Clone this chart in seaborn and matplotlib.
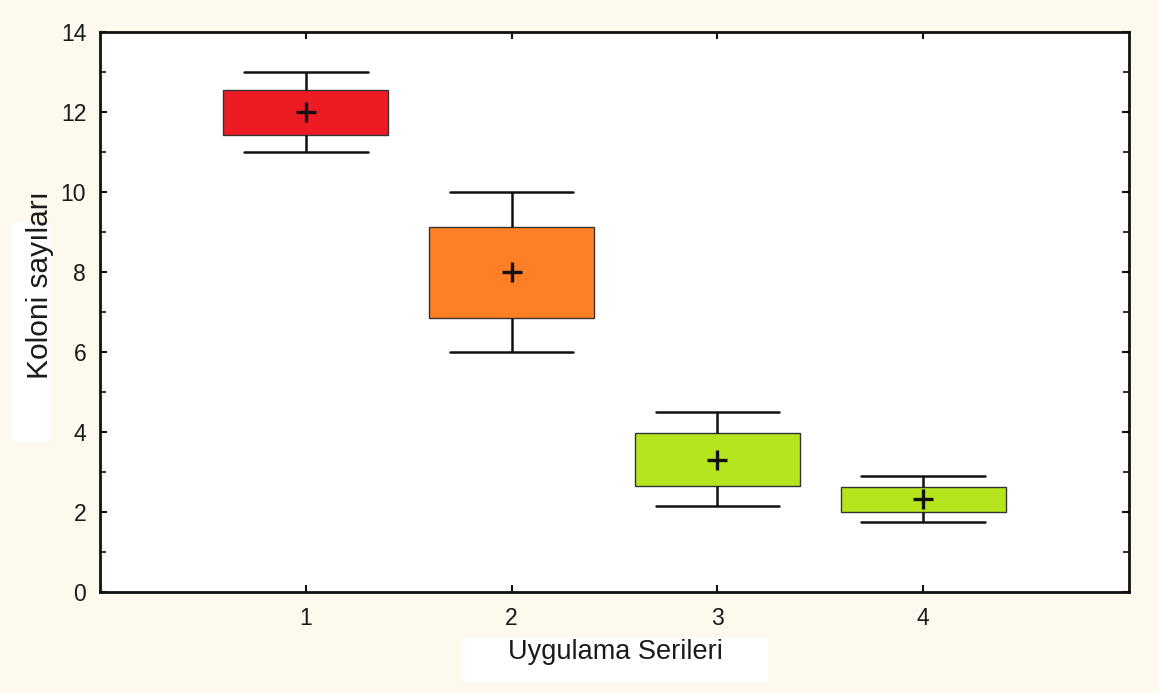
import numpy as np
import pandas as pd
import matplotlib
matplotlib.use("Agg")
import matplotlib.pyplot as plt
import seaborn as sns
from matplotlib.ticker import MultipleLocator
from matplotlib.patches import Rectangle

categories = ["1", "2", "3", "4"]
whisker_low = [11.0, 6.0, 2.15, 1.75]
q1 = [11.43, 6.85, 2.65, 2.0]
center = [12.0, 8.0, 3.3, 2.32]
q3 = [12.55, 9.13, 3.98, 2.63]
whisker_high = [13.0, 10.0, 4.5, 2.9]
colors = ["#ED1C24", "#FF7F27", "#B5E61D", "#B5E61D"]

rows = []
for c, a, b, m, d, e in zip(categories, whisker_low, q1, center, q3, whisker_high):
    for v in (a, b, m, d, e):
        rows.append({"seri": c, "val": v})
df = pd.DataFrame(rows)
cdf = pd.DataFrame({"seri": categories, "val": center})

sns.set_theme(style="white")
plt.rcParams["font.family"] = ["Liberation Sans", "DejaVu Sans"]

bg = "#FEF9EE"
fig = plt.figure(figsize=(11.59, 6.93), dpi=100, facecolor=bg)
ax = fig.add_axes([0.0863, 0.1457, 0.8878, 0.8081])
ax.set_facecolor("white")

sns.boxplot(data=df, x="seri", y="val", hue="seri", palette=colors, order=categories,
            hue_order=categories, legend=False, whis=np.inf, width=0.8, ax=ax,
            saturation=1, linecolor="#222222", linewidth=1.2,
            boxprops=dict(edgecolor="#333333", linewidth=1.0),
            whiskerprops=dict(color="#111111", linewidth=1.8),
            capprops=dict(color="#111111", linewidth=1.8),
            medianprops=dict(visible=False), showfliers=False)
# widen caps
for line in ax.lines:
    xd = np.asarray(line.get_xdata(), dtype=float)
    yd = np.asarray(line.get_ydata(), dtype=float)
    if len(xd) == 2 and yd[0] == yd[1] and xd[0] != xd[1]:
        mid = xd.mean()
        line.set_xdata([mid - 0.3, mid + 0.3])

sns.scatterplot(data=cdf, x="seri", y="val", marker="+", s=200, color="#111111",
                linewidth=2.4, ax=ax, zorder=5, legend=False)

ax.set_xlim(-1, 4)
ax.set_ylim(0, 14)
ax.yaxis.set_major_locator(MultipleLocator(2))
ax.yaxis.set_minor_locator(MultipleLocator(1))
ax.tick_params(axis="both", which="both", direction="in", top=True, right=True,
               left=True, bottom=True, color="#111111", labelsize=16.5, labelcolor="#1a1a1a")
ax.tick_params(which="major", length=5, width=1.5, pad=10)
ax.tick_params(which="minor", length=4, width=1.2)
ax.tick_params(axis="x", pad=11)
for s in ax.spines.values():
    s.set_visible(True)
    s.set_color("#111111")
    s.set_linewidth(2)

ax.set_xlabel("")
ax.set_ylabel("")

# white label boxes
fig.patches.append(Rectangle((462/1159, 1 - 682/693), 306/1159, 45/693,
                             transform=fig.transFigure, facecolor="white", edgecolor="none", zorder=0))
fig.patches.append(Rectangle((12/1159, 1 - 442/693), 38/1159, 220/693,
                             transform=fig.transFigure, facecolor="white", edgecolor="none", zorder=0))
fig.text(615/1159, 1 - 652/693, "Uygulama Serileri", ha="center", va="center",
         fontsize=19.5, color="#1a1a1a")
fig.text(40/1159, 1 - 285/693, "Koloni sayıları", ha="center", va="center",
         rotation=90, fontsize=21.5, color="#1a1a1a")

fig.savefig("out.png", dpi=100, facecolor=bg)
